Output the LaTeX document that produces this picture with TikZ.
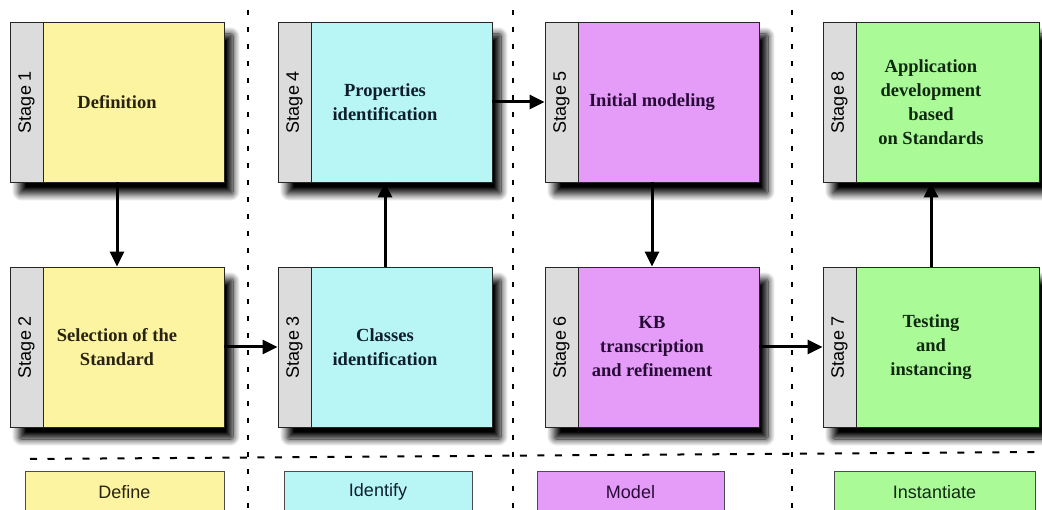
\documentclass[tikz,border=0pt]{standalone}
\usepackage{fontspec}
\setmainfont{Liberation Serif}
\setsansfont{Liberation Sans}
\usetikzlibrary{arrows.meta,shadows.blur}
\definecolor{yfill}{RGB}{252,244,160}
\definecolor{ytext}{RGB}{40,35,15}
\definecolor{cfill}{RGB}{184,246,246}
\definecolor{ctext}{RGB}{15,30,45}
\definecolor{mfill}{RGB}{228,156,248}
\definecolor{mtext}{RGB}{40,10,55}
\definecolor{gfill}{RGB}{170,250,152}
\definecolor{gtext}{RGB}{15,40,15}
\definecolor{tabgray}{RGB}{220,220,220}
\tikzset{
  stagebox/.style={draw=black!85, line width=0.8pt, minimum width=214pt, minimum height=160pt,
    align=center, font=\fontsize{18.5}{24}\selectfont\bfseries,
    blur shadow={shadow xshift=9pt, shadow yshift=-12pt, shadow blur radius=7pt,
      shadow blur extra rounding=2pt, shadow blur steps=12, shadow opacity=100}},
  stagetab/.style={draw=black!85, line width=0.8pt, fill=tabgray, rotate=90, anchor=north,
    minimum width=160pt, minimum height=33pt, font=\sffamily\fontsize{18}{20}\selectfont},
  phasebox/.style={draw=black!70, line width=0.8pt, minimum height=42pt,
    font=\sffamily\fontsize{18}{20}\selectfont},
  flow/.style={line width=3pt, -{Triangle[length=15pt,width=14pt]}},
  vsep/.style={line width=2.2pt, dash pattern=on 5pt off 12pt},
  hsep/.style={line width=2pt, dash pattern=on 7pt off 10.5pt},
}
\begin{document}
\begin{tikzpicture}[x=1pt,y=-1pt]
  \useasboundingbox (0,0) rectangle (1042,510);
  \draw[vsep] (248,10) -- (248,510);
  \draw[vsep] (513,10) -- (513,510);
  \draw[vsep] (792,10) -- (792,510);
  \draw[hsep] (30,459) -- (1042,452);

  \node[stagebox, fill=yfill, text=ytext] (s1) at (117,102) {Definition};
  \node[stagebox, fill=yfill, text=ytext] (s2) at (117,347) {Selection of the\\Standard};
  \node[stagebox, fill=cfill, text=ctext] (s3) at (385,347) {Classes\\identification};
  \node[stagebox, fill=cfill, text=ctext] (s4) at (385,102) {Properties\\identification};
  \node[stagebox, fill=mfill, text=mtext] (s5) at (652,102) {Initial modeling};
  \node[stagebox, fill=mfill, text=mtext] (s6) at (652,347) {KB\\transcription\\and refinement};
  \node[stagebox, fill=gfill, text=gtext, minimum width=216pt] (s7) at (931,347) {Testing\\and\\instancing};
  \node[stagebox, fill=gfill, text=gtext, minimum width=216pt] (s8) at (931,102) {Application\\development\\based\\on Standards};

  \node[stagetab] (t1) at (s1.west) {Stage 1};
  \node[stagetab] (t2) at (s2.west) {Stage 2};
  \node[stagetab] (t3) at (s3.west) {Stage 3};
  \node[stagetab] (t4) at (s4.west) {Stage 4};
  \node[stagetab] (t5) at (s5.west) {Stage 5};
  \node[stagetab] (t6) at (s6.west) {Stage 6};
  \node[stagetab] (t7) at (s7.west) {Stage 7};
  \node[stagetab] (t8) at (s8.west) {Stage 8};

  \draw[flow] (s1) -- (s2);
  \draw[flow] (s2) -- (s3);
  \draw[flow] (s3) -- (s4);
  \draw[flow] (s4) -- (s5);
  \draw[flow] (s5) -- (s6);
  \draw[flow] (s6) -- (s7);
  \draw[flow] (s7) -- (s8);

  \node[phasebox, fill=yfill, text=ytext, minimum width=199pt] (p1) at (124.5,492) {Define};
  \node[phasebox, fill=cfill, text=ctext, minimum width=188pt] (p2) at (378,492) {Identify};
  \node[phasebox, fill=mfill, text=mtext, minimum width=187pt] (p3) at (630.5,492) {Model};
  \node[phasebox, fill=gfill, text=gtext, minimum width=201pt] (p4) at (934.5,492) {Instantiate};
\end{tikzpicture}
\end{document}
